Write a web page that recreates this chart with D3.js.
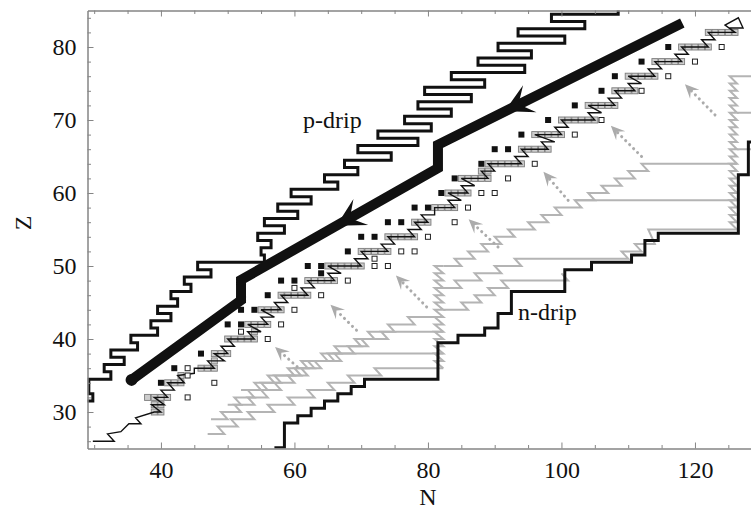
<!DOCTYPE html>
<html><head><meta charset="utf-8">
<script src="https://cdn.jsdelivr.net/npm/d3@7"></script>
<style>body{margin:0;background:#fff}svg{display:block}</style>
</head><body>
<script>
// ---------- DATA ----------
const xMajor = [40, 60, 80, 100, 120];
const xMinor = [30, 35, 45, 50, 55, 65, 70, 75, 85, 90, 95, 105, 110, 115, 125];
const yMajor = [30, 40, 50, 60, 70, 80];
const yMinor = [26, 28, 32, 34, 36, 38, 42, 44, 46, 48, 52, 54, 56, 58, 62, 64, 66, 68, 72, 74, 76, 78, 82, 84];

// p-drip line: [Z, N position of the boundary edge for that Z row]
const pDrip = [[31,28.0],[32,29.8],[33,29.2],[34,29.2],[35,32.5],[36,31.5],[37,34.5],[38,32.5],[39,36.5],[40,35.5],
 [41,39.5],[42,38.5],[43,41.5],[44,39.5],[45,42.5],[46,41.5],[47,44.5],[48,43.5],[49,47.5],[50,45.5],
 [51,55.5],[52,55.0],[53,56.5],[54,54.5],[55,58.5],[56,55.5],[57,60.5],[58,57.5],[59,62.5],[60,59.5],
 [61,66.5],[62,64.5],[63,69.5],[64,67.5],[65,74.5],[66,69.5],[67,78.5],[68,72.5],[69,80.5],[70,76.5],
 [71,83.5],[72,78.5],[73,86.5],[74,79.5],[75,88.5],[76,83.5],[77,94.5],[78,87.5],[79,95.5],[80,90.5],
 [81,100.5],[82,93.5],[83,103.5],[84,98.5],[85,108.5],[86,112.0]];

// n-drip line vertices [N, Z]
const nDrip = [[57,25.1],[58.5,25.1],[58.5,28.5],[60.5,28.5],[60.5,29.5],[62.5,29.5],[62.5,30.5],[64.5,30.5],
 [64.5,31.5],[66.5,31.5],[66.5,32.5],[68.5,32.5],[68.5,33.5],[70.5,33.5],[70.5,34.5],[81.5,34.5],[81.5,39.5],
 [84.5,39.5],[84.5,40.5],[88.5,40.5],[88.5,41.5],[90.5,41.5],[90.5,43.5],[92.5,43.5],[92.5,46.5],[100.5,46.5],
 [100.5,49.5],[104.5,49.5],[104.5,50.5],[110.5,50.5],[110.5,51.5],[112.5,51.5],[112.5,53.5],[114.5,53.5],
 [114.5,54.5],[126.5,54.5],[126.5,62.5],[128,62.5],[128,67],[131,67]];

// thick arrow path [N, Z]
const thickPath = [[35.6,34.4],[52,45.3],[52,48.1],[81.5,63.4],[81.5,66.6],[118.1,83.3]];
const thickArrowTips = [[66.3,55.5],[91.5,71.2]];

// rp-process path (black thin line) [N, Z]
const rpLine = [
 [29.8,26],[33,26],[32,27],[34,27.3],[35.2,28.4],[37,28.4],[36.2,29.2],[39,30],[40,30],[38.6,31],[40.5,31],[39,32],[41,32],
 [40,33],[42,33],[41,34],[43.5,34],[42.5,35],[45,35.3],[45,36],[48,36],
 [47,37],[49.5,37],[48,38],[50,38],[49,39],[51,39],[50,40],[54,40],
 [53,41],[55,41],[53,42],[56,42],[55,43],[57,43],[55,44],[58,44],
 [57,45],[59,45],[58,46],[62,46],[61,47],[63,47],[62,48],[66,48],
 [65,49],[67,49],[65,50],[70,50],[69,51],[71,51],[70,52],[74,52],
 [73,53],[75,53],[74,54],[78,54],[77,55],[79,55],[78,56],[80,56],
 [79,57],[81,57],[81,58],[84,58],[83,59],[85,59],[83,60],[86,60],
 [85,61],[87,61],[85,62],[89,62],[88,63],[90,63],[89,64],[94,64],
 [93,65],[95,65],[94,66],[98,66],[97,67],[99,67],[96,68],[100,68],
 [99,69],[101,69],[100,70],[105,70],[104,71],[106,71],[104,72],[108,72],
 [107,73],[109,73],[108,74],[111,74],[110,75],[112,75],[110,76],[114,76],
 [113,77],[115,77],[114,78],[118,78],[117,79],[119,79],[118,80],[122,80],
 [121,81],[123,81],[122,82],[126,82],[124.5,83],[126.5,84],[127.2,82.6],[125,82.6]];

// gray squares along the rp path [N, Z]
const graySq = [
 [39,30],[40,30],[39,31],[40,31],[38,32],[39,32],[40,32],[41,32],
 [41,34],[42,34],[43,34],[43,35],[46,36],[47,36],[48,36],[48,37],[48,38],[49,38],[50,38],
 [50,40],[51,40],[52,40],[53,40],[54,40],[54,41],[53,42],[54,42],[55,42],[56,42],
 [55,44],[56,44],[57,44],[58,44],[58,46],[59,46],[60,46],[61,46],[62,46],
 [62,48],[63,48],[64,48],[65,48],[66,48],[65,50],[66,50],[67,50],[68,50],[69,50],[70,50],
 [70,52],[71,52],[72,52],[73,52],[74,52],[74,54],[75,54],[76,54],[77,54],[78,54],
 [78,56],[79,56],[80,56],[81,58],[82,58],[83,58],[84,58],[83,60],[84,60],[85,60],[86,60],
 [85,62],[86,62],[87,62],[88,62],[89,62],[88,63],[89,63],
 [89,64],[90,64],[91,64],[92,64],[93,64],[94,64],[94,66],[95,66],[96,66],[97,66],[98,66],
 [96,68],[97,68],[98,68],[99,68],[100,68],[100,70],[101,70],[102,70],[103,70],[104,70],[105,70],
 [104,72],[105,72],[106,72],[107,72],[108,72],[108,74],[109,74],[110,74],[111,74],
 [110,76],[111,76],[112,76],[113,76],[114,76],[114,78],[115,78],[116,78],[117,78],[118,78],
 [118,80],[119,80],[120,80],[121,80],[122,80],[122,82],[123,82],[124,82],[125,82],[126,82]];

// filled black squares [N, Z]
const blackSq = [[40,34],[42,36],[46,38],[50,42],[52,42],[52,44],[54,44],[56,46],[58,48],[60,48],
 [62,50],[64,50],[64,49],[68,52],[70,54],[72,54],[74,56],[76,56],[78,58],[80,58],[82,60],[84,62],
 [88,64],[90,66],[92,66],[94,68],[98,70],[102,72],[106,74],[108,76],[112,78],[116,80]];

// open squares [N, Z]
const openSq = [[44,32],[48,34],[44,35],[44,36],[56,40],[52,41],[58,42],[60,44],[64,46],[60,47],
 [68,48],[72,50],[74,50],[72,51],[76,52],[78,52],[80,54],[84,56],[86,58],[88,60],[90,60],[92,62],
 [96,64],[102,68],[106,70],[112,74],[116,76],[120,78],[124,80]];

// gray r-process-like paths [N, Z]
const grayA = [[47,27],[49.5,27],[48.5,28],[51.5,28],[50.5,29],[54,29],[53,30],[57,30],[56,31],[60,31],[59,32],[63,32],[62,33],[66,33],[65,34],[69,34],[68,35],[73,35],[72,36],[82.3,36]];
const grayB = [[47.5,29],[50,29],[49,30],[52,30],[51,31],[54,31],[53,32],[56,32],[55,33],[58,33],[57,34],[60,34],[59,35],[62,35],[61,36],[64,36],[63,37],[67,37],[66,38],[82.3,38]];
const grayC = [[50,31],[52,31],[51,32],[54,32],[53,33],[56,33],[55,34],[58,34],[57,35],[61,35],[60,36],[63,36],[62,37],[66,37],[65,38],[69,38],[68,39],[71,39],[70,40],[74,40],[73,41],[82.3,41]];
const grayD = [[52,33],[55,33],[54,34],[57,34],[56,35],[60,35],[59,36],[62,36],[61,37],[65,37],[64,38],[67,38],[66,39],[70,39],[69,40],[72,40],[71,41],[75,41],[74,42],[78,42],[77,43],[82.3,43]];
const zig82 = [[82.3,36],[81,37],[82.3,37],[81,38],[82.3,38],[81,39],[82.3,39],[81,40],[82.3,40],[81,41],[82.3,41],[81,42],[82.3,42],[81,43],[82.3,43],[81,44],[82.3,44],[81,45],[82.3,45],[81,46],[82.3,46],[81,47],[82.3,47],[81,48],[82.3,48],[81,49],[82.3,49],[81,50],[82.3,50]];
const grayE = [[82.3,44],[86,44],[85,45],[88,45],[87,46],[90,46],[89,47],[92,47],[91,48],[101,48],[100,49]];
const grayF = [[82.3,47],[85,47],[84,48],[88,48],[87,49],[91,49],[90,50],[94,50],[93,51],[110,51],[109,52],[112,52],[111,53],[114,53],[113,55],[126.3,55]];
const grayG = [[82.3,50],[85,50],[84,51],[87,51],[86,52],[89,52],[88,53],[91,53],[90,54],[93,54],[92,55],[96,55],[95,56],[98,56],[97,57],[100,57],[99,58],[103,58],[102,59],[126.3,59]];
const grayH = [[102,59],[105,59],[104,60],[107,60],[106,61],[109,61],[108,62],[111,62],[110,63],[113,63],[112,64],[126.3,64]];
const zig126 = [[126.3,55],[125.2,56],[126.3,56],[125.2,57],[126.3,57],[125.2,58],[126.3,58],[125.2,59],[126.3,59],[125.2,60],[126.3,60],[125.2,61],[126.3,61],[125.2,62],[126.3,62],[125.2,63],[126.3,63],[125.2,64],[126.3,64],[125.2,65],[126.3,65],[125.2,66],[126.3,66],[125.2,67],[126.3,67],[125.2,68],[126.3,68],[125.2,69],[126.3,69],[125.2,70],[126.3,70],[125.2,71],[126.3,71],[125.2,72],[126.3,72],[125.2,73],[126.3,73],[125.2,74],[126.3,74],[125.2,75],[126.3,75],[125.2,76],[126.3,76]];
const branch66 = [[126.3,66],[131,66]];
const branch71 = [[126.3,71],[131,71]];
const branch76 = [[126.3,76],[131,76]];

// dotted arrows [tailN, tailZ, tipN, tipZ]
const dotArrows = [[60.4,36.2,57.1,38.9],[69.3,41.2,65.4,44.7],[79.8,44.4,75.2,48.7],[90.5,52.6,86.1,56.4],
 [101,59,97.3,62.9],[112,65,107.4,69.2],[123,70.7,118.5,74.9]];

// ---------- CHART ----------
const W = 751, H = 511;
const svg = d3.select('body').append('svg').attr('width', W).attr('height', H);
svg.append('rect').attr('width', W).attr('height', H).attr('fill', '#fff');

const x = d3.scaleLinear().domain([29, 128.5]).range([87.5, 751.7]);
const y = d3.scaleLinear().domain([25, 85]).range([448.5, 10.5]);
const font = "'Liberation Serif','Times New Roman',serif";

svg.append('clipPath').attr('id', 'clip').append('rect')
  .attr('x', 87.5).attr('y', 10.5).attr('width', 700).attr('height', 438);
const plot = svg.append('g').attr('clip-path', 'url(#clip)');

const line = d3.line().x(d => x(d[0])).y(d => y(d[1]));

// gray paths
const grayPaths = [grayA, grayB, grayC, grayD, zig82, grayE, grayF, grayG, grayH, zig126, branch66, branch71, branch76];
plot.selectAll('path.gray').data(grayPaths).join('path').attr('class', 'gray')
  .attr('d', line).attr('fill', 'none').attr('stroke', '#b4b4b4').attr('stroke-width', 2)
  .attr('stroke-linejoin', 'miter');

// dotted arrows
function arrowHead(tx, ty, ux, uy, L, Wd, notch) {
  const nx = -uy, ny = ux;
  const bx = tx - ux * L, by = ty - uy * L;
  return `M${tx},${ty}L${bx + nx * Wd},${by + ny * Wd}L${tx - ux * L * notch},${ty - uy * L * notch}L${bx - nx * Wd},${by - ny * Wd}Z`;
}
dotArrows.forEach(a => {
  const x0 = x(a[0]), y0 = y(a[1]), x1 = x(a[2]), y1 = y(a[3]);
  const len = Math.hypot(x1 - x0, y1 - y0), ux = (x1 - x0) / len, uy = (y1 - y0) / len;
  plot.append('line').attr('x1', x0).attr('y1', y0).attr('x2', x1 - ux * 9).attr('y2', y1 - uy * 9)
    .attr('stroke', '#ababab').attr('stroke-width', 3).attr('stroke-dasharray', '0.1,5.5').attr('stroke-linecap', 'round');
  plot.append('path').attr('d', arrowHead(x1, y1, ux, uy, 14, 6.5, 0.6)).attr('fill', '#ababab');
});

// n-drip
plot.append('path').datum(nDrip).attr('d', line).attr('fill', 'none')
  .attr('stroke', '#111').attr('stroke-width', 3).attr('stroke-linejoin', 'miter');

// p-drip (step boundary built from row edges)
const pPts = pDrip.flatMap(d => [[d[1], d[0] - 0.5], [d[1], d[0] + 0.5]]);
plot.append('path').datum(pPts).attr('d', line).attr('fill', 'none')
  .attr('stroke', '#111').attr('stroke-width', 3).attr('stroke-linejoin', 'miter');

// gray squares
const sq = 6;
plot.selectAll('rect.g').data(graySq).join('rect').attr('class', 'g')
  .attr('x', d => x(d[0]) - sq / 2).attr('y', d => y(d[1]) - sq / 2)
  .attr('width', sq).attr('height', sq).attr('fill', '#cdcdcd').attr('stroke', '#7c7c7c').attr('stroke-width', 0.9);

// rp black line
plot.append('path').datum(rpLine).attr('d', line).attr('fill', 'none')
  .attr('stroke', '#111').attr('stroke-width', 1.4).attr('stroke-linejoin', 'miter');

// black and open squares
plot.selectAll('rect.b').data(blackSq).join('rect').attr('class', 'b')
  .attr('x', d => x(d[0]) - sq / 2).attr('y', d => y(d[1]) - sq / 2)
  .attr('width', sq).attr('height', sq).attr('fill', '#111');
plot.selectAll('rect.o').data(openSq).join('rect').attr('class', 'o')
  .attr('x', d => x(d[0]) - sq / 2 + 0.5).attr('y', d => y(d[1]) - sq / 2 + 0.5)
  .attr('width', sq - 1).attr('height', sq - 1).attr('fill', '#fff').attr('stroke', '#222').attr('stroke-width', 1);

// thick arrow line
plot.append('path').datum(thickPath).attr('d', line).attr('fill', 'none')
  .attr('stroke', '#111').attr('stroke-width', 10).attr('stroke-linejoin', 'miter').attr('stroke-linecap', 'butt');
plot.append('circle').attr('cx', x(thickPath[0][0])).attr('cy', y(thickPath[0][1])).attr('r', 6).attr('fill', '#111');
[[thickArrowTips[0], thickPath[3], thickPath[2]], [thickArrowTips[1], thickPath[5], thickPath[4]]].forEach(([t, from, to]) => {
  const dx = x(to[0]) - x(from[0]), dy = y(to[1]) - y(from[1]);
  const len = Math.hypot(dx, dy);
  plot.append('path').attr('d', arrowHead(x(t[0]), y(t[1]), dx / len, dy / len, 28, 15, 0.55)).attr('fill', '#111');
});

// labels
svg.append('text').attr('x', 303).attr('y', 128).attr('font-family', font).attr('font-size', 24).attr('fill', '#111').text('p-drip');
svg.append('text').attr('x', 518).attr('y', 320).attr('font-family', font).attr('font-size', 24).attr('fill', '#111').text('n-drip');

// axes
const axisColor = '#858585';
function styleAxis(g) {
  g.selectAll('.domain').attr('stroke', axisColor).attr('stroke-width', 1.5);
  g.selectAll('.tick line').attr('stroke', axisColor).attr('stroke-width', 1);
  g.selectAll('.tick text').attr('font-family', font).attr('font-size', 24).attr('fill', '#111');
}
const gB = svg.append('g').attr('transform', 'translate(0,448.5)')
  .call(d3.axisBottom(x).tickValues(xMajor).tickSize(-6).tickSizeOuter(0).tickPadding(12.5).tickFormat(d3.format('d')));
styleAxis(gB);
const gBm = svg.append('g').attr('transform', 'translate(0,448.5)')
  .call(d3.axisBottom(x).tickValues(xMinor).tickSize(-3.5).tickSizeOuter(0).tickFormat(''));
styleAxis(gBm); gBm.select('.domain').remove();
const gT = svg.append('g').attr('transform', 'translate(0,10.5)')
  .call(d3.axisTop(x).tickValues(xMajor).tickSize(-6).tickSizeOuter(0).tickFormat(''));
styleAxis(gT);
const gTm = svg.append('g').attr('transform', 'translate(0,10.5)')
  .call(d3.axisTop(x).tickValues(xMinor).tickSize(-3.5).tickSizeOuter(0).tickFormat(''));
styleAxis(gTm); gTm.select('.domain').remove();
const gL = svg.append('g').attr('transform', 'translate(87.5,0)')
  .call(d3.axisLeft(y).tickValues(yMajor).tickSize(-6).tickSizeOuter(0).tickPadding(11).tickFormat(d3.format('d')));
styleAxis(gL);
const gLm = svg.append('g').attr('transform', 'translate(87.5,0)')
  .call(d3.axisLeft(y).tickValues(yMinor).tickSize(-3.5).tickSizeOuter(0).tickFormat(''));
styleAxis(gLm); gLm.select('.domain').remove();

svg.append('text').attr('x', 428).attr('y', 505).attr('text-anchor', 'middle')
  .attr('font-family', font).attr('font-size', 24).attr('fill', '#111').text('N');
svg.append('text').attr('transform', 'translate(31,223) rotate(-90)').attr('text-anchor', 'middle')
  .attr('font-family', font).attr('font-size', 24).attr('fill', '#111').text('Z');
</script>
</body></html>
